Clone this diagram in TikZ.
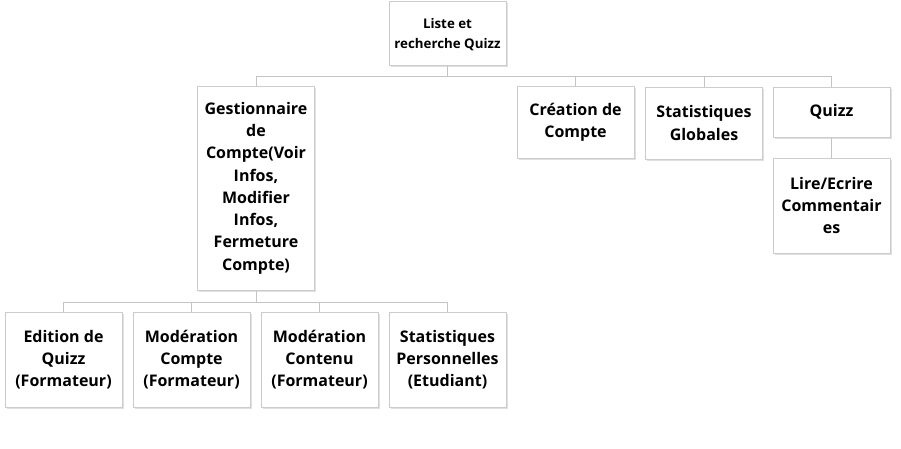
\documentclass[tikz,border=0pt]{standalone}
\usepackage{fontspec}
\setmainfont{Open Sans}
\usetikzlibrary{shadows}
\definecolor{boxline}{HTML}{CCCCCC}
\definecolor{conn}{HTML}{C4C4C4}
\tikzset{
  box/.style={draw=boxline, line width=1pt, fill=white, minimum width=117pt, inner sep=0pt,
    align=center, font=\fontsize{16}{22.3}\selectfont\bfseries,
    drop shadow={shadow xshift=1.5pt, shadow yshift=-1.5pt, opacity=0.12, fill=black}},
  rootbox/.style={box, font=\fontsize{13.3}{20}\selectfont\bfseries},
  link/.style={draw=conn, line width=1pt}
}
\begin{document}
\begin{tikzpicture}[x=1pt,y=-1pt]
\useasboundingbox (0,0) rectangle (901,448);
\node[rootbox, minimum height=64pt] (root) at (447.5,33) {};
\node[font=\fontsize{13.3}{20}\selectfont\bfseries, align=center, inner sep=0pt] (roottxt) at (447.5,35) {Liste et\\recherche Quizz};
\node[box, minimum height=204pt] (gest) at (256,188) {Gestionnaire\\de\\Compte(Voir\\Infos,\\Modifier\\Infos,\\Fermeture\\Compte)};
\node[box, minimum height=72pt] (crea) at (575.5,122.5) {Création de\\Compte};
\node[box, minimum height=72pt] (statg) at (704,123) {Statistiques\\Globales};
\node[box, minimum height=50pt] (quizz) at (831.5,112) {Quizz};
\node[box, minimum height=95pt] (lire) at (831.5,205.5) {Lire/Ecrire\\Commentair\\es};
\node[box, minimum height=95pt] (ed) at (63.5,359.5) {Edition de\\Quizz\\(Formateur)};
\node[box, minimum height=95pt] (modc) at (191.5,359.5) {Modération\\Compte\\(Formateur)};
\node[box, minimum height=95pt] (modt) at (319.5,359.5) {Modération\\Contenu\\(Formateur)};
\node[box, minimum height=95pt] (statp) at (447.5,359.5) {Statistiques\\Personnelles\\(Etudiant)};
\coordinate (j1) at (447.5,76);
\coordinate (j2) at (256,302);
\draw[link] (root.south) -- (j1);
\draw[link] (j1) -| (gest.north);
\draw[link] (j1) -| (crea.north);
\draw[link] (j1) -| (statg.north);
\draw[link] (j1) -| (quizz.north);
\draw[link] (quizz.south) -- (lire.north);
\draw[link] (gest.south) -- (j2);
\draw[link] (j2) -| (ed.north);
\draw[link] (j2) -| (modc.north);
\draw[link] (j2) -| (modt.north);
\draw[link] (j2) -| (statp.north);
\end{tikzpicture}
\end{document}
